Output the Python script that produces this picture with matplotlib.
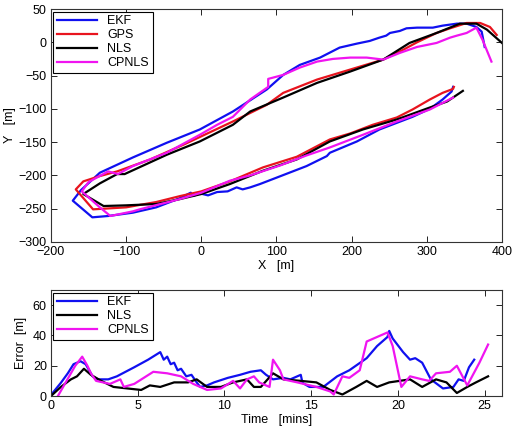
import matplotlib
matplotlib.use("Agg")
import matplotlib.pyplot as plt

# ---------- trajectory data (X, Y in metres) ----------
gps_x = [336, 335, 321, 304, 281, 260, 228, 198, 171, 127, 82, 38, 0, -28, -60, -100,
         -144, -167, -157, -135, -112, -68, -24, 42, 87, 109, 154, 198, 242, 264, 287,
         313, 331, 353, 371, 384, 393]
gps_y = [-67, -70, -76, -86, -101, -113, -124, -137, -146, -172, -188, -209, -224, -231,
         -240, -248, -251, -221, -209, -201, -194, -176, -154, -119, -94, -76, -56, -41,
         -26, -14, 0, 14, 21, 29, 29, 23, 11]

nls_x = [348, 327, 304, 260, 215, 171, 127, 82, 38, 0, -30, -60, -100, -130, -157,
         -135, -112, -102, -46, -2, 42, 65, 109, 154, 198, 242, 277, 313, 344, 366, 380, 400]
nls_y = [-73, -89, -98, -116, -131, -149, -176, -193, -213, -228, -236, -243, -245, -246,
         -228, -212, -198, -198, -169, -149, -124, -104, -83, -61, -44, -26, -1, 14, 28, 28,
         19, -1]

ekf_x = [335, 333, 321, 304, 281, 237, 207, 171, 167, 140, 101, 78, 65, 55, 47, 35, 21,
         9, -2, -11, -14, -30, -60, -91, -124, -145, -171, -160, -135, -91, -46, -2, 42,
         87, 91, 109, 131, 158, 184, 207, 224, 237, 246, 251, 264, 273, 287, 308, 321,
         340, 353, 366, 373, 377]
ekf_y = [-67, -74, -86, -100, -112, -131, -149, -166, -171, -186, -203, -213, -218, -221,
         -218, -224, -225, -230, -227, -231, -226, -235, -248, -256, -261, -263, -238,
         -222, -196, -173, -151, -131, -104, -71, -67, -49, -34, -23, -8, -2, 2, 7, 10, 14,
         17, 21, 22, 22, 25, 28, 28, 23, 16, -7]

cpnls_x = [335, 304, 260, 215, 171, 140, 105, 65, 38, 0, -30, -82, -91, -121, -135, -159,
           -150, -124, -111, -91, -46, -2, 21, 42, 65, 89, 89, 109, 131, 154, 175, 198,
           220, 242, 264, 287, 313, 331, 340, 353, 366, 374, 386]
cpnls_y = [-83, -101, -119, -139, -158, -170, -185, -200, -208, -226, -236, -251, -254,
           -261, -248, -224, -210, -194, -198, -186, -166, -139, -124, -112, -86, -67, -55,
           -49, -38, -29, -25, -23, -23, -26, -16, -7, -1, 7, 10, 14, 22, 4, -29]

# ---------- position error over time ----------
ekf_t = [0, 0.57, 0.97, 1.3, 1.7, 2.0, 2.4, 2.7, 3.3, 3.8, 4.8, 5.6, 6.3, 6.5, 6.7, 6.9,
         7.1, 7.3, 7.5, 7.8, 8.1, 8.4, 8.6, 9.0, 9.4, 10.2, 10.9, 11.5, 12.1, 12.4, 12.8,
         13.4, 13.8, 14.4, 14.5, 14.9, 15.7, 16.5, 17.2, 18.2, 18.8, 19.4, 19.5, 19.7,
         19.9, 20.3, 20.7, 21.0, 21.4, 21.9, 22.6, 23.2, 23.5, 23.8, 24.1, 24.4]
ekf_e = [0.7, 8.7, 15, 21, 23, 21, 13, 11, 11, 13, 19, 24, 29, 24, 26, 21, 22, 17, 18, 13,
         14, 9, 6, 7, 9, 12, 14, 16, 17, 14, 11, 12, 11, 14, 8.7, 6, 6, 13, 17, 25, 33, 39,
         43, 38, 35, 29, 24, 25, 22, 11, 5, 6, 11, 10, 19, 24]

nls_t = [0, 0.57, 1.15, 1.5, 1.9, 2.3, 2.9, 3.6, 4.4, 5.2, 5.7, 6.3, 7.1, 7.9, 8.4, 9.0,
         9.8, 10.5, 11.3, 11.7, 12.1, 12.8, 13.4, 14.4, 15.3, 16.1, 16.8, 17.6, 18.2, 18.8,
         19.5, 20.1, 20.7, 21.4, 22.2, 22.8, 23.4, 24.0, 24.5, 25.2]
nls_e = [0, 6, 11, 13, 18, 14, 10, 6, 5, 4, 7, 6, 9, 9, 11, 6, 6, 9, 11, 6, 6, 15, 11, 10,
         9, 4, 1, 6, 10, 6, 9, 10, 11, 6, 11, 9, 2, 6, 9, 13]

cpnls_t = [0.4, 0.95, 1.4, 1.8, 2.1, 2.3, 2.6, 3.4, 4.0, 4.2, 4.8, 5.9, 6.7, 7.5, 8.2, 9.0,
           9.8, 10.5, 10.9, 11.3, 11.7, 12.0, 12.6, 12.8, 13.2, 13.4, 14.2, 15.3, 16.1,
           16.3, 16.8, 17.2, 17.8, 18.2, 19.4, 19.7, 20.2, 20.7, 21.4, 21.8, 22.2, 23.0,
           23.4, 24.0, 24.7, 25.2]
cpnls_e = [0, 11, 20, 26, 20, 15, 10, 8, 11, 6, 8, 16, 15, 13, 8, 4, 5, 10, 5, 11, 13, 9,
           6, 24, 17, 11, 9, 6, 3, 1, 13, 12, 17, 36, 42, 33, 6, 13, 11, 10, 15, 16, 20, 7,
           22, 34]

BLUE = "#1010f0"
RED = "#e8141e"
MAG = "#f014f0"

plt.rcParams["font.family"] = "Liberation Sans"
plt.rcParams["font.size"] = 9
plt.rcParams["xtick.direction"] = "in"
plt.rcParams["ytick.direction"] = "in"
plt.rcParams["xtick.top"] = True
plt.rcParams["ytick.right"] = True

fig = plt.figure(figsize=(5.16, 4.29), dpi=100)

# ---------- top: trajectories ----------
ax1 = fig.add_axes([0.0988, 0.436, 0.874, 0.543])
ax1.plot(ekf_x, ekf_y, color=BLUE, lw=1.6, label="EKF")
ax1.plot(gps_x, gps_y, color=RED, lw=1.6, label="GPS")
ax1.plot(nls_x, nls_y, color="black", lw=1.6, label="NLS")
ax1.plot(cpnls_x, cpnls_y, color=MAG, lw=1.6, label="CPNLS")
ax1.set_xlim(-200, 400)
ax1.set_ylim(-300, 50)
ax1.set_xticks(range(-200, 401, 100))
ax1.set_yticks(range(-300, 51, 50))
ax1.set_xticklabels([str(v).replace("-", "\u2212") for v in range(-200, 401, 100)])
ax1.set_yticklabels([str(v).replace("-", "\u2212") for v in range(-300, 51, 50)])
ax1.set_xlabel("X   [m]", labelpad=1)
ax1.set_ylabel("Y   [m]", labelpad=2)
leg1 = ax1.legend(loc="upper left", handlelength=3.2, fancybox=False, edgecolor="black",
                  borderaxespad=0.2, labelspacing=0.15, borderpad=0.3, framealpha=1)
leg1.get_frame().set_linewidth(0.8)

# ---------- bottom: error vs time ----------
ax2 = fig.add_axes([0.0988, 0.0769, 0.874, 0.247])
ax2.plot(ekf_t, ekf_e, color=BLUE, lw=1.6, label="EKF")
ax2.plot(nls_t, nls_e, color="black", lw=1.6, label="NLS")
ax2.plot(cpnls_t, cpnls_e, color=MAG, lw=1.6, label="CPNLS")
ax2.set_xlim(0, 26)
ax2.set_ylim(0, 70)
ax2.set_xticks(range(0, 26, 5))
ax2.set_yticks([0, 20, 40, 60])
ax2.set_xlabel("Time   [mins]", labelpad=1)
ax2.set_ylabel("Error  [m]", labelpad=4)
leg2 = ax2.legend(loc="upper left", handlelength=3.2, fancybox=False, edgecolor="black",
                  borderaxespad=0.2, labelspacing=0.15, borderpad=0.3, framealpha=1)
leg2.get_frame().set_linewidth(0.8)

for ax in (ax1, ax2):
    for s in ax.spines.values():
        s.set_color("#333333")
        s.set_linewidth(0.8)
    ax.tick_params(length=4, width=0.6, pad=3)

fig.savefig("out.png", dpi=100)
